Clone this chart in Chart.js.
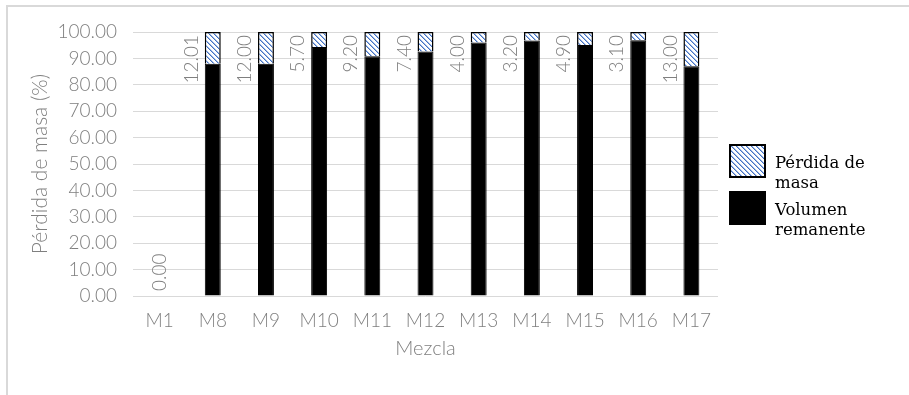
<!DOCTYPE html>
<html>
<head>
<meta charset="utf-8">
<script src="https://cdn.jsdelivr.net/npm/chart.js@4.4.1/dist/chart.umd.min.js"></script>
<style>
  html, body { margin: 0; padding: 0; background: #ffffff; }
  #wrap { width: 909px; height: 395px; position: relative; }
</style>
</head>
<body>
<div id="wrap"><canvas id="chart" width="909" height="395"></canvas></div>
<script>
// Mezclas y porcentajes de masa
const mezclas = ['M1', 'M8', 'M9', 'M10', 'M11', 'M12', 'M13', 'M14', 'M15', 'M16', 'M17'];
const perdidaMasa = [0.00, 12.01, 12.00, 5.70, 9.20, 7.40, 4.00, 3.20, 4.90, 3.10, 13.00];
const volumenRemanente = [0.00, 87.99, 88.00, 94.30, 90.80, 92.60, 96.00, 96.80, 95.10, 96.90, 87.00];
const ejeYMin = 0;
const ejeYMax = 100;
const ejeYPaso = 10;

const AXIS_FONT = 'Lato';
const AXIS_GREY = '#7f7f7f';
const LEGEND_FONT = '"DejaVu Serif", "Liberation Serif", serif';

// Blue diagonal hatch on white
function hatchPattern() {
  const size = 5;
  const c = document.createElement('canvas');
  c.width = size; c.height = size;
  const g = c.getContext('2d');
  const img = g.createImageData(size, size);
  for (let y = 0; y < size; y++) {
    for (let x = 0; x < size; x++) {
      const k = ((x - y) % size + size) % size;
      const i = (y * size + x) * 4;
      let col = [255, 255, 255];
      if (k === 0) col = [68, 114, 196];
      else if (k === 1) col = [160, 186, 228];
      img.data[i] = col[0]; img.data[i + 1] = col[1]; img.data[i + 2] = col[2]; img.data[i + 3] = 255;
    }
  }
  g.putImageData(img, 0, 0);
  return g.createPattern(c, 'repeat');
}

const pattern = hatchPattern();

// Outer frame of the chart
const framePlugin = {
  id: 'frame',
  beforeDraw(chart) {
    const ctx = chart.ctx;
    ctx.save();
    ctx.fillStyle = '#ffffff';
    ctx.fillRect(0, 0, chart.width, chart.height);
    ctx.strokeStyle = '#d9d9d9';
    ctx.lineWidth = 2;
    ctx.strokeRect(7, 6, chart.width + 20, chart.height + 20);
    ctx.restore();
  }
};

// Rotated value labels of the mass-loss series
const valueLabelPlugin = {
  id: 'valueLabels',
  afterDatasetsDraw(chart) {
    const ctx = chart.ctx;
    const meta = chart.getDatasetMeta(1);
    const bottom = chart.chartArea.bottom;
    ctx.save();
    ctx.font = '300 19px ' + AXIS_FONT;
    ctx.fillStyle = AXIS_GREY;
    ctx.textAlign = 'right';
    ctx.textBaseline = 'middle';
    meta.data.forEach((bar, i) => {
      const txt = perdidaMasa[i].toFixed(2);
      const w = ctx.measureText(txt).width;
      const hasBar = (perdidaMasa[i] + volumenRemanente[i]) > 0;
      const x = hasBar ? bar.x - bar.width / 2 - 13 : bar.x;
      const y = Math.min(bar.y + 3, bottom - 5 - w);
      ctx.save();
      ctx.translate(x, y);
      ctx.rotate(-Math.PI / 2);
      ctx.fillText(txt, 0, 0);
      ctx.restore();
    });
    ctx.restore();
  }
};

// Legend at the right, labels wrapped onto two lines
const sideLegendPlugin = {
  id: 'sideLegend',
  afterDraw(chart) {
    const ctx = chart.ctx;
    const items = chart.data.datasets.slice().reverse();
    const boxX = 730, boxW = 35, boxH = 32, textX = 775;
    let top = 145;
    ctx.save();
    ctx.font = '16.5px ' + LEGEND_FONT;
    ctx.textBaseline = 'alphabetic';
    ctx.textAlign = 'left';
    items.forEach(ds => {
      ctx.fillStyle = ds.backgroundColor;
      ctx.fillRect(boxX, top, boxW, boxH);
      ctx.strokeStyle = '#000000';
      ctx.lineWidth = 2;
      ctx.strokeRect(boxX, top, boxW, boxH);
      // wrap label
      const words = ds.label.split(' ');
      const lines = [];
      let cur = '';
      words.forEach(wd => {
        const t = cur ? cur + ' ' + wd : wd;
        if (ctx.measureText(t).width > 100 && cur) { lines.push(cur); cur = wd; }
        else cur = t;
      });
      if (cur) lines.push(cur);
      ctx.fillStyle = '#000000';
      lines.forEach((ln, k) => ctx.fillText(ln, textX, top + 23 + k * 19.5));
      top += 47;
    });
    ctx.restore();
  }
};

new Chart(document.getElementById('chart'), {
  type: 'bar',
  data: {
    labels: mezclas,
    datasets: [
      {
        label: 'Volumen remanente',
        data: volumenRemanente,
        backgroundColor: '#000000',
        borderColor: '#000000',
        borderWidth: c => (c.raw ? 1 : 0),
        categoryPercentage: 0.3,
        barPercentage: 1.0
      },
      {
        label: 'Pérdida de masa',
        data: perdidaMasa,
        backgroundColor: pattern,
        borderColor: '#000000',
        borderWidth: c => (c.raw ? 1.5 : 0),
        categoryPercentage: 0.3,
        barPercentage: 1.0
      }
    ]
  },
  options: {
    responsive: false,
    animation: false,
    devicePixelRatio: 1,
    layout: { padding: { left: 0, top: 32, right: 191, bottom: 0 } },
    plugins: {
      legend: { display: false },
      tooltip: { enabled: false }
    },
    scales: {
      x: {
        stacked: true,
        grid: { display: false },
        border: { display: false },
        ticks: { color: AXIS_GREY, font: { family: AXIS_FONT, size: 19, weight: 300 }, padding: 5 },
        title: {
          display: true, text: 'Mezcla', color: AXIS_GREY,
          font: { family: AXIS_FONT, size: 20, weight: 300 },
          padding: { top: 0, bottom: 34 }
        },
        afterFit(scale) { scale.height = 99; }
      },
      y: {
        stacked: true,
        min: ejeYMin,
        max: ejeYMax,
        grid: { color: '#d9d9d9', lineWidth: 1, drawTicks: false },
        border: { display: false },
        ticks: {
          stepSize: ejeYPaso,
          color: AXIS_GREY,
          font: { family: AXIS_FONT, size: 19, weight: 300 },
          padding: 16,
          callback: v => Number(v).toFixed(2)
        },
        title: {
          display: true, text: 'Pérdida de masa (%)', color: AXIS_GREY,
          font: { family: AXIS_FONT, size: 21, weight: 300 },
          padding: { top: 28, bottom: 0 }
        },
        afterFit(scale) { scale.width = 133; }
      }
    }
  },
  plugins: [framePlugin, valueLabelPlugin, sideLegendPlugin]
});
</script>
</body>
</html>
